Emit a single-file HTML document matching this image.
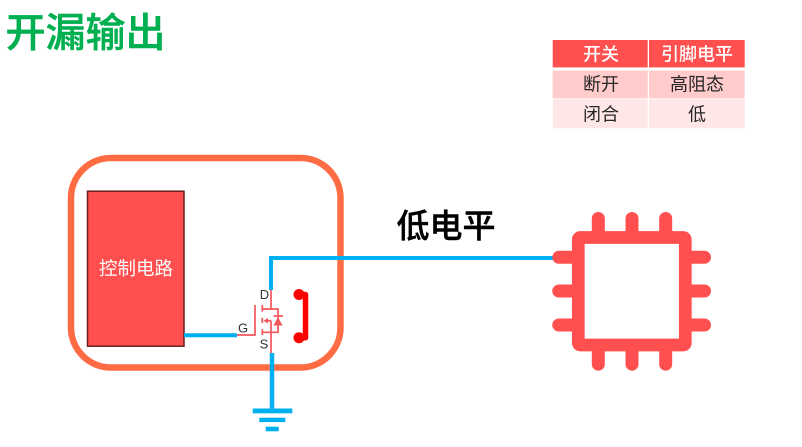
<!DOCTYPE html>
<html><head><meta charset="utf-8">
<style>
html,body{margin:0;padding:0;background:#fff;width:802px;height:447px;overflow:hidden}
svg{display:block}
text{font-family:"Liberation Sans","Noto Sans CJK SC",sans-serif}
</style></head><body>
<svg width="802" height="447" viewBox="0 0 802 447" xmlns="http://www.w3.org/2000/svg">
<rect width="802" height="447" fill="#fff"/>
<text x="5.500" y="46.500" font-size="40" font-weight="500" fill="#00b050" stroke="#00b050" stroke-width="0.500">开漏输出</text>

<!-- table -->
<rect x="552.7" y="40" width="95" height="27.4" fill="#ff4f4f"/>
<rect x="649" y="40" width="95.7" height="27.4" fill="#ff4f4f"/>
<rect x="552.7" y="70.5" width="95" height="27.8" fill="#ffcbcb"/>
<rect x="649" y="70.5" width="95.7" height="27.8" fill="#ffcbcb"/>
<rect x="552.7" y="99.3" width="95" height="29" fill="#ffe7e7"/>
<rect x="649" y="99.3" width="95.7" height="29" fill="#ffe7e7"/>
<g font-size="18" text-anchor="middle">
<text x="601" y="60.500" fill="#fff" font-weight="500">开关</text>
<text x="697" y="60.500" fill="#fff" font-weight="500">引脚电平</text>
<text x="601" y="90.500" fill="#262626">断开</text>
<text x="697" y="90.500" fill="#262626">高阻态</text>
<text x="601" y="120.500" fill="#262626">闭合</text>
<text x="697" y="120.500" fill="#262626">低</text>
</g>

<!-- enclosure -->
<rect x="71" y="158" width="269.500" height="209.500" rx="40" ry="40" fill="none" stroke="#ff6b43" stroke-width="6.500"/>

<!-- control block -->
<rect x="87.500" y="191.200" width="96.500" height="155" fill="#ff4f4f" stroke="#6b1f1f" stroke-width="1.500"/>
<text x="136" y="275" font-size="18.500" fill="#fff" text-anchor="middle">控制电路</text>

<!-- wires -->
<path d="M184 335.300H237" stroke="#00b0f0" stroke-width="4" fill="none"/>
<path d="M271 290V258H556" stroke="#00b0f0" stroke-width="4" fill="none"/>
<path d="M272 353V410" stroke="#00b0f0" stroke-width="4.500" fill="none"/>
<rect x="252.700" y="408.500" width="39.600" height="4.800" fill="#00b0f0"/>
<rect x="259.300" y="417.700" width="26" height="4.400" fill="#00b0f0"/>
<rect x="265.700" y="426.700" width="13" height="4.600" fill="#00b0f0"/>

<!-- MOSFET -->
<g stroke="#f2555a" stroke-width="1.700" fill="none">
<path d="M237 335H255V305"/>
<path d="M262.300 305V311.700M262.300 317.700V323M262.300 329.300V335"/>
<path d="M262.300 309H278V332.300H262.300"/>
<path d="M271 290V309M271 320.700V353"/>
<path d="M265 320.700H271"/>
<path d="M273.500 316H283"/>
</g>
<path d="M278 317L282.500 325.500H273.500Z" fill="#f2555a"/>
<path d="M263.500 320.700L268 318V323.500Z" fill="#f2555a"/>
<text x="264.500" y="299" font-size="13" fill="#333" text-anchor="middle">D</text>
<text x="243" y="332.500" font-size="13" fill="#333" text-anchor="middle">G</text>
<text x="264" y="348.500" font-size="13" fill="#333" text-anchor="middle">S</text>

<!-- switch -->
<circle cx="299" cy="294.500" r="5.500" fill="#ff0000"/>
<circle cx="299" cy="337.700" r="5.500" fill="#ff0000"/>
<path d="M299 294.500H305.500V337.700H299" fill="none" stroke="#ff0000" stroke-width="5.500" stroke-linejoin="round"/>

<text x="396.500" y="237.500" font-size="33" font-weight="500" fill="#000" stroke="#000" stroke-width="0.400">低电平</text>

<!-- chip -->
<g stroke="#ff4f4f" stroke-linecap="round" fill="none">
<path stroke-width="13" d="M598.300 218.500V235M632 218.500V235M665.700 218.500V235M598.300 348V364.200M632 348V364.200M665.700 348V364.200M558.800 257.300H575M558.800 291H575M558.800 325H575M689 257.300H704.500M689 291H704.500M689 325H704.500"/>
</g>
<rect x="578.300" y="237.500" width="107" height="107.500" rx="2" fill="#fff" stroke="#ff4f4f" stroke-width="12.700"/>
</svg>
</body></html>
